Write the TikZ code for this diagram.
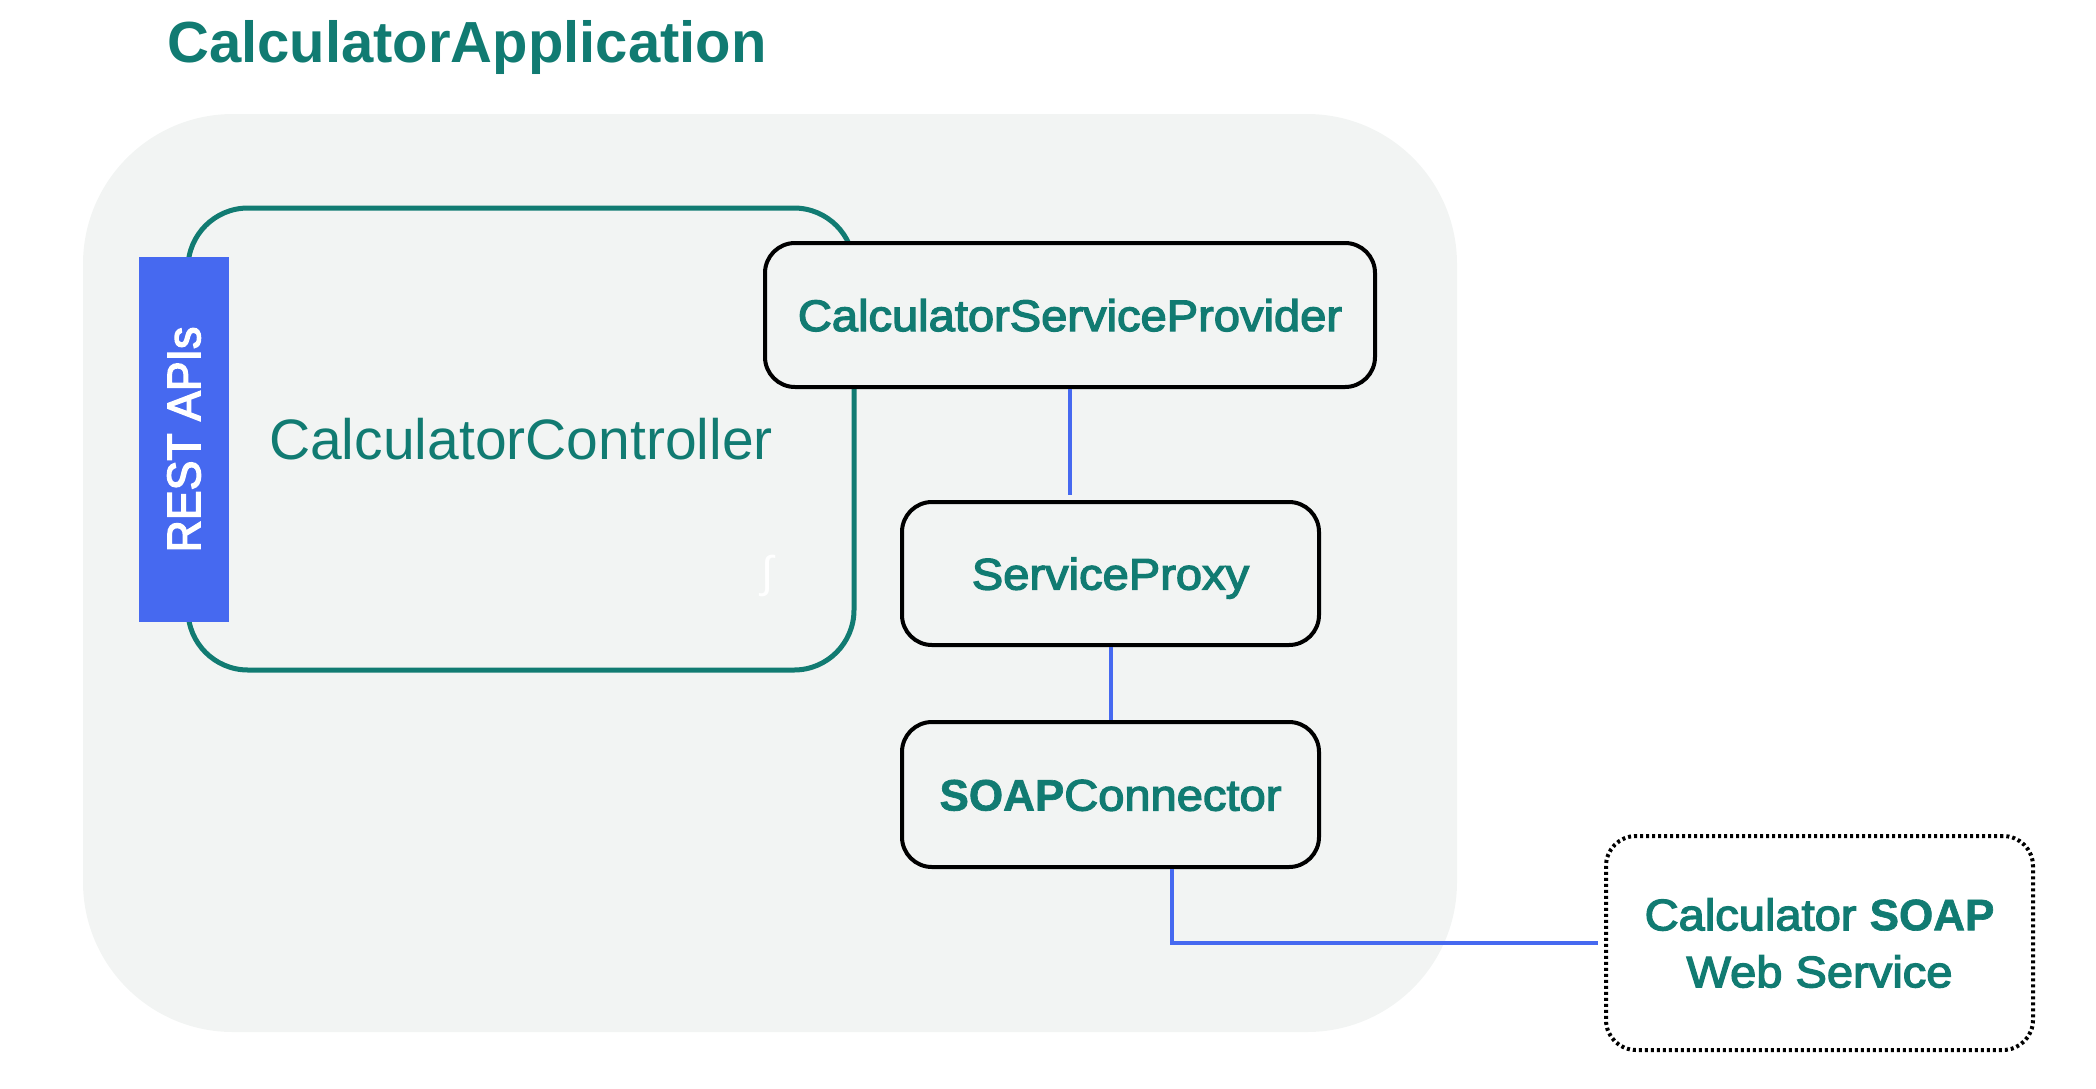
\documentclass[tikz,border=0pt]{standalone}
\usepackage{fontspec}
\setmainfont{Liberation Sans}
\newfontfamily\mediumsans{Liberation Sans}[FakeBold=3,FakeStretch=1.07]
\newfontfamily\barsans{Liberation Sans}[FakeBold=3,FakeStretch=0.95]
\newfontfamily\heavysans{Liberation Sans}[BoldFeatures={FakeBold=1.5}]
\usetikzlibrary{positioning}

\definecolor{appteal}{HTML}{117B72}
\definecolor{appblue}{HTML}{4669F0}
\definecolor{appgray}{HTML}{F2F4F3}

\tikzset{
  component/.style={draw=black, line width=4pt, rounded corners=30pt, fill=appgray,
    text=appteal, font=\mediumsans\fontsize{44}{57}\selectfont, inner sep=0pt},
  oneline/.style={text height=32pt, text depth=0pt},
  remote/.style={component, fill=white, dash pattern=on 3pt off 3pt, align=center},
  link/.style={draw=appblue, line width=4pt},
}

\begin{document}
\begin{tikzpicture}[x=1pt,y=-1pt,node distance=221pt,on grid]
    \useasboundingbox (0,0) rectangle (2096,1088);
    % application frame
    \node[fill=appgray, rounded corners=150pt, minimum width=1374pt, minimum height=918pt, inner sep=0pt] (app) at (770,573) {};
    \node[anchor=base west, inner sep=0pt, text=appteal, font=\bfseries\fontsize{58}{70}\selectfont] (title) at (167,62) {CalculatorApplication};
    % controller with its API bar
    \node[draw=appteal, line width=5pt, rounded corners=60pt, minimum width=666pt, minimum height=462pt, inner sep=0pt,
          text=appteal, font=\fontsize{57}{68}\selectfont] (ctrl) at (521,439) {CalculatorController};
    \node[fill=appblue, rotate=90, minimum width=365pt, minimum height=90pt, inner sep=0pt,
          text=white, font=\barsans\fontsize{47}{56}\selectfont] (rest) at (184,439.5) {REST APIs};
    \node[text=white, inner sep=0pt, font=\fontsize{44}{52}\selectfont] (mark) at (768,576) {∫};
    % service chain
    \node[component, oneline, minimum width=610pt, minimum height=144pt] (csp) at (1070,315) {CalculatorServiceProvider};
    \node[component, oneline, minimum width=417pt, minimum height=143pt] (sp) [below right=258.5pt and 40.5pt of csp] {ServiceProxy};
    \node[component, oneline, minimum width=417pt, minimum height=145pt] (sc) [below=of sp] {{\heavysans\bfseries SOAP}Connector};
    \node[remote, minimum width=427pt, minimum height=214pt] (ws) at (1819.5,943) {Calculator {\heavysans\bfseries SOAP}\\Web Service};
    % links
    \draw[link, shorten >=5pt] (csp.south) -- (csp.south |- sp.north);
    \draw[link] (sp.south) -- (sc.north);
    \draw[link, shorten >=6pt] ([xshift=61pt]sc.south) |- (ws.west);
\end{tikzpicture}
\end{document}
